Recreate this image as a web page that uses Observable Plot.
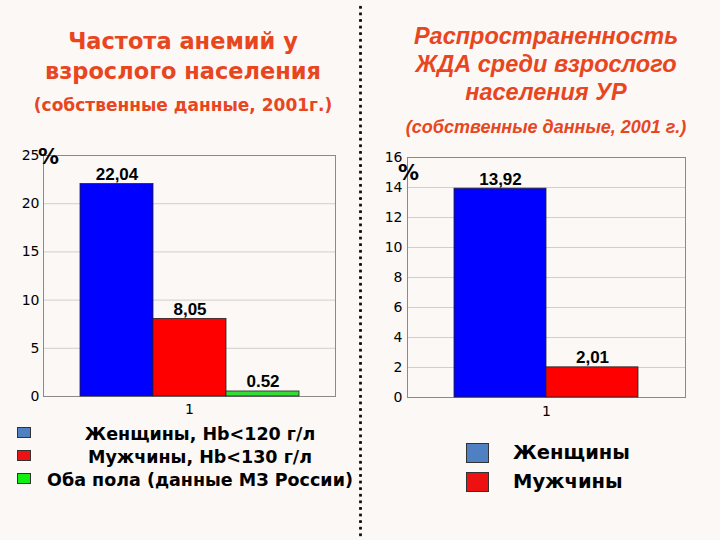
<!DOCTYPE html>
<html>
<head>
<meta charset="utf-8">
<script src="https://cdn.jsdelivr.net/npm/d3@7"></script>
<script src="https://cdn.jsdelivr.net/npm/@observablehq/plot@0.6"></script>
<style>
  html, body { margin: 0; padding: 0; background: #fbf8f6; }
  #page { position: relative; width: 720px; height: 540px; overflow: hidden; background: #fbf8f6; }
  .abs { position: absolute; }
  .ltitle { left: 0; width: 366px; text-align: center; color: #e8461e; font-family: "DejaVu Sans", sans-serif; font-weight: bold; white-space: nowrap; }
  .rtitle { left: 360px; width: 372px; text-align: center; color: #e8461e; font-family: "Liberation Sans", Arial, sans-serif; font-weight: bold; font-style: italic; white-space: nowrap; }
  #sep { left: 358px; top: 4px; width: 5px; height: 540px;
         background-image: radial-gradient(circle, #111 1.3px, transparent 1.7px);
         background-size: 5px 6.6px; }
  .sw { position: absolute; box-sizing: border-box; border: 1px solid #333; }
  .lg { position: absolute; font-family: "DejaVu Sans", sans-serif; font-weight: bold; color: #000; white-space: nowrap; }
  .chart svg g[aria-label$="tick label"], .chart svg g[aria-label$="tick label"] text {
    font-size: 14px; font-family: "DejaVu Sans", sans-serif; fill: #000;
  }
</style>
</head>
<body>
<div id="page">
  <div id="sep" class="abs"></div>

  <div class="abs ltitle" style="top:26px;font-size:22.5px;line-height:30px;">Частота анемий у<br>взрослого населения</div>
  <div class="abs ltitle" style="top:95px;font-size:17px;line-height:20px;">(собственные данные, 2001г.)</div>

  <div class="abs rtitle" style="top:22px;font-size:23.5px;line-height:28px;">Распространенность<br>ЖДА среди взрослого<br>населения УР</div>
  <div class="abs rtitle" style="top:117px;font-size:18px;line-height:20px;">(собственные данные, 2001 г.)</div>

  <div id="leftChart" class="abs chart" style="left:0;top:140px;"></div>
  <div id="rightChart" class="abs chart" style="left:360px;top:140px;"></div>
</div>
<script>
// ---- data ----
const groups = ["1"];

const leftSeries = ["Женщины, Hb<120 г/л", "Мужчины, Hb<130 г/л", "Оба пола (данные МЗ России)"];
const leftValues = [22.04, 8.05, 0.52];
const leftLabels = ["22,04", "8,05", "0.52"];
const leftTicks = [0, 5, 10, 15, 20, 25];

const rightSeries = ["Женщины", "Мужчины"];
const rightValues = [13.92, 2.01];
const rightLabels = ["13,92", "2,01"];
const rightTicks = [0, 2, 4, 6, 8, 10, 12, 14, 16];

const unitLabel = ["%"];

// ---- styles ----
const barColors = ["#0000ff", "#ff0000", "#33dd33"];
const swatchColors = ["#4f81c2", "#ee1111", "#11ee11"];

function makeChart(series, values, labels, ticks, opts) {
  const data = series.map((s, i) => ({group: groups[0], series: s, value: values[i], label: labels[i]}));
  return Plot.plot({
    width: 360,
    height: 290,
    marginLeft: opts.ml, marginRight: opts.mr, marginTop: opts.mt, marginBottom: opts.mb,
    style: {background: "transparent", fontFamily: "DejaVu Sans, sans-serif", fontSize: "14px", color: "#000"},
    fx: {domain: groups, padding: 0, label: null, axis: "bottom", tickSize: 0, tickPadding: opts.fxPad},
    x: {domain: series, paddingInner: 0, paddingOuter: 0.5, axis: null},
    y: {domain: [ticks[0], ticks[ticks.length - 1]], label: null},
    color: {domain: series, range: barColors.slice(0, series.length)},
    marks: [
      Plot.gridY(ticks, {stroke: "#cfcfcf", strokeOpacity: 1, strokeWidth: 1}),
      Plot.frame({stroke: "#8a8a8a", strokeWidth: 1}),
      Plot.axisY(ticks, {tickSize: 0, tickPadding: opts.yPad, label: null, fontSize: 14}),
      Plot.barY(data, {fx: "group", x: "series", y: "value", fill: "series", stroke: "#222", strokeWidth: 0.8}),
      Plot.text(data, {fx: "group", x: "series", y: "value", text: "label", lineAnchor: "bottom", dy: -4,
                       fontFamily: "Liberation Sans, Arial, sans-serif", fontWeight: "bold", fontSize: 17, fill: "#000"}),
      Plot.text(unitLabel, {text: d => d, frameAnchor: "top-left", textAnchor: "middle", lineAnchor: "middle",
                            dx: opts.pdx, dy: opts.pdy, fontSize: 21, fontWeight: "bold", fill: "#000"})
    ]
  });
}

document.getElementById("leftChart").append(
  makeChart(leftSeries, leftValues, leftLabels, leftTicks,
            {ml: 43, mr: 25, mt: 15, mb: 34, yPad: 4, fxPad: 8, pdx: 5, pdy: 2})
);
document.getElementById("rightChart").append(
  makeChart(rightSeries, rightValues, rightLabels, rightTicks,
            {ml: 47, mr: 35, mt: 17, mb: 33, yPad: 5, fxPad: 9, pdx: 1, pdy: 16})
);

// ---- legends ----
const page = document.getElementById("page");
function addLegend(series, colors, cfg) {
  series.forEach((s, i) => {
    const sw = document.createElement("div");
    sw.className = "sw";
    Object.assign(sw.style, {left: cfg.sx + "px", top: (cfg.sy + i * cfg.step) + "px",
      width: cfg.sw + "px", height: cfg.sh + "px", background: colors[i]});
    page.append(sw);
    const t = document.createElement("div");
    t.className = "lg";
    t.textContent = s;
    const st = {top: (cfg.ty + i * cfg.step) + "px", fontSize: cfg.fs + "px", lineHeight: cfg.lh + "px"};
    if (cfg.center != null) {
      Object.assign(st, {left: (cfg.center - 200) + "px", width: "400px", textAlign: "center"});
    } else {
      st.left = cfg.tx + "px";
    }
    Object.assign(t.style, st);
    page.append(t);
  });
}
addLegend(leftSeries, swatchColors, {sx: 17, sy: 427, sw: 14, sh: 11, step: 23, ty: 422, fs: 17.5, lh: 24, center: 200});
addLegend(rightSeries, swatchColors, {sx: 466, sy: 443, sw: 23, sh: 20, step: 29, ty: 438, fs: 19.5, lh: 30, tx: 513});
</script>
</body>
</html>
